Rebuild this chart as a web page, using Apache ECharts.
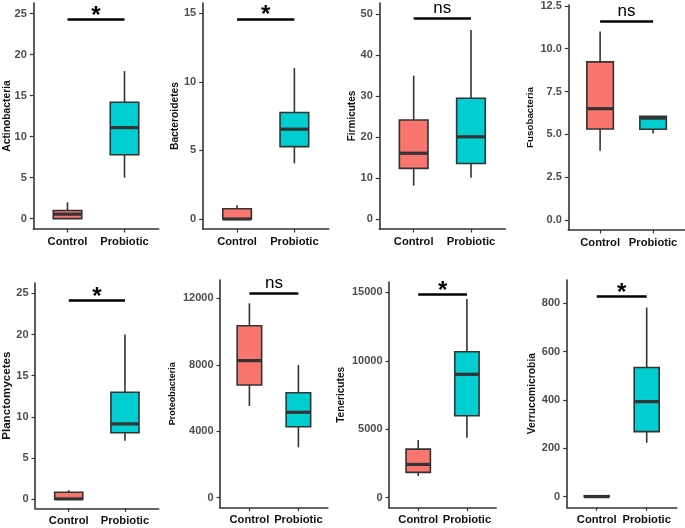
<!DOCTYPE html>
<html>
<head>
<meta charset="utf-8">
<script src="https://cdn.jsdelivr.net/npm/echarts@6/dist/echarts.min.js"></script>
<style>
html,body{margin:0;padding:0;background:#fff;}
#chart{width:685px;height:528px;}
</style>
</head>
<body>
<div id="chart"></div>
<script>
// ---------- DATA ----------
const categories = ['Control', 'Probiotic'];
const phyla = ['Actinobacteria', 'Bacteroidetes', 'Firmicutes', 'Fusobacteria',
               'Planctomycetes', 'Proteobacteria', 'Tenericutes', 'Verrucomicrobia'];
// each: [min, Q1, median, Q3, max] for Control, Probiotic
const actinobacteria  = [[0, 0, 0.55, 1.0, 2.0],        [5.0, 7.8, 11.1, 14.2, 18.0]];
const bacteroidetes   = [[0, 0, 0, 0.75, 1.0],          [4.05, 5.28, 6.55, 7.76, 11.0]];
const firmicutes      = [[8.2, 12.4, 16.1, 24.2, 35.0], [10.1, 13.6, 20.1, 29.5, 46.1]];
const fusobacteria    = [[4.04, 5.31, 6.5, 9.23, 11.0], [5.05, 5.3, 5.95, 6.05, 6.05]];
const planctomycetes  = [[0, 0, 0.05, 0.85, 1.1],       [7.1, 8.08, 9.15, 13.0, 20.0]];
const proteobacteria  = [[5520, 6780, 8250, 10350, 11700], [3030, 4270, 5140, 6320, 7990]];
const tenericutes     = [[1580, 1850, 2430, 3550, 4210],   [4380, 5990, 9010, 10660, 14510]];
const verrucomicrobia = [[0, 0, 0, 4, 7],               [223, 269, 393, 534, 782]];
const boxStats = [actinobacteria, bacteroidetes, firmicutes, fusobacteria,
                  planctomycetes, proteobacteria, tenericutes, verrucomicrobia];

const sigLabels = ['*', '*', 'ns', 'ns', '*', 'ns', '*', '*'];
const sigLevels = [24.3, 14.6, 49.1, 11.63, 24.2, 12300, 14850, 830];

const ticksActino   = [0, 5, 10, 15, 20, 25];
const ticksBactero  = [0, 5, 10, 15];
const ticksFirmi    = [0, 10, 20, 30, 40, 50];
const ticksFuso     = [0, 2.5, 5, 7.5, 10, 12.5];
const ticksPlancto  = [0, 5, 10, 15, 20, 25];
const ticksProteo   = [0, 4000, 8000, 12000];
const ticksTeneri   = [0, 5000, 10000, 15000];
const ticksVerruco  = [0, 200, 400, 600, 800];
const tickSets = [ticksActino, ticksBactero, ticksFirmi, ticksFuso,
                  ticksPlancto, ticksProteo, ticksTeneri, ticksVerruco];
const tickDecimals = [0, 0, 0, 1, 0, 0, 0, 0];

// ---------- LAYOUT / STYLE ----------
const layout = [
  {left: 33.3,  top: 3,   bottom: 229,   spacing: 57,   ymin: -1.26, ymax: 26.3,  nameGap: 20.8, nameSize: 10.3},
  {left: 202.7, top: 3,   bottom: 229,   spacing: 57.3, ymin: -0.73, ymax: 15.75, nameGap: 22.4, nameSize: 10.3},
  {left: 379.3, top: 3,   bottom: 229,   spacing: 57.3, ymin: -2.36, ymax: 52.7,  nameGap: 22.3, nameSize: 10},
  {left: 568.3, top: 5,   bottom: 230,   spacing: 53,   ymin: -0.58, ymax: 12.55, nameGap: 32.8, nameSize: 9.8},
  {left: 33.3,  top: 283, bottom: 508.3, spacing: 57,   ymin: -1.09, ymax: 26.25, nameGap: 22,   nameSize: 11.6},
  {left: 220,   top: 280, bottom: 507.7, spacing: 49,   ymin: -602,  ymax: 13101, nameGap: 42.8, nameSize: 9},
  {left: 389,   top: 282, bottom: 507.7, spacing: 48.7, ymin: -730,  ymax: 15752, nameGap: 42.7, nameSize: 10.1},
  {left: 566.7, top: 280, bottom: 507.3, spacing: 50,   ymin: -44,   ymax: 896,   nameGap: 29.2, nameSize: 10.3}
];
const fillColors = ['#F8766D', '#00CED1'];
const FONT = "'Liberation Sans', Arial, sans-serif";
const AX = '#333333';

function renderBox(params, api) {
  const x = api.value(0);
  const cMin = api.coord([x, api.value(1)]);
  const cQ1 = api.coord([x, api.value(2)]);
  const cMed = api.coord([x, api.value(3)]);
  const cQ3 = api.coord([x, api.value(4)]);
  const cMax = api.coord([x, api.value(5)]);
  const unit = api.size([1, 0])[0];
  const hw = unit * 0.25;
  const color = fillColors[x];
  return {
    type: 'group',
    children: [
      {type: 'line', shape: {x1: cMin[0], y1: cMin[1], x2: cQ1[0], y2: cQ1[1]}, style: {stroke: AX, lineWidth: 1.6}},
      {type: 'line', shape: {x1: cQ3[0], y1: cQ3[1], x2: cMax[0], y2: cMax[1]}, style: {stroke: AX, lineWidth: 1.6}},
      {type: 'rect', shape: {x: cQ1[0] - hw, y: cQ3[1], width: 2 * hw, height: Math.max(cQ1[1] - cQ3[1], 0.5)},
        style: {fill: color, stroke: AX, lineWidth: 1.6}},
      {type: 'line', shape: {x1: cMed[0] - hw, y1: cMed[1], x2: cMed[0] + hw, y2: cMed[1]}, style: {stroke: AX, lineWidth: 3.2}}
    ]
  };
}

const grids = [], xAxes = [], yAxes = [], series = [];
layout.forEach((L, i) => {
  grids.push({left: L.left, top: L.top, width: L.spacing * 2.2, height: L.bottom - L.top, containLabel: false});
  xAxes.push({
    type: 'value', gridIndex: i, min: -0.6, max: 1.6,
    splitLine: {show: false},
    axisLine: {show: true, onZero: false, lineStyle: {color: AX, width: 1.6}},
    axisTick: {show: true, length: 3.5, customValues: [0, 1], lineStyle: {color: AX, width: 1.2}},
    axisLabel: {show: true, customValues: [0, 1], margin: 7, color: '#111', fontFamily: FONT,
      fontWeight: 'bold', fontSize: 11.2, formatter: v => categories[Math.round(v)]}
  });
  yAxes.push({
    type: 'value', gridIndex: i, min: L.ymin, max: L.ymax,
    name: phyla[i], nameLocation: 'middle', nameGap: L.nameGap, nameRotate: 90,
    nameMoveOverlap: false,
    nameTextStyle: {color: '#111', fontFamily: FONT, fontWeight: 'bold', fontSize: L.nameSize},
    splitLine: {show: false},
    axisLine: {show: true, onZero: false, lineStyle: {color: AX, width: 1.6}},
    axisTick: {show: true, length: 3.5, customValues: tickSets[i], lineStyle: {color: AX, width: 1.2}},
    axisLabel: {show: true, customValues: tickSets[i], margin: 6.5, color: '#4D4D4D', fontFamily: FONT,
      fontWeight: 'bold', fontSize: 11, formatter: v => Number(v).toFixed(tickDecimals[i])}
  });
  const data = boxStats[i].map((s, k) => [k].concat(s));
  const isStar = sigLabels[i] === '*';
  series.push({
    type: 'custom', xAxisIndex: i, yAxisIndex: i,
    renderItem: renderBox,
    encode: {x: 0, y: [1, 2, 3, 4, 5]},
    data: data,
    silent: true,
    markLine: {
      silent: true, symbol: 'none', animation: false,
      lineStyle: {color: '#000', width: 2.6, type: 'solid'},
      label: {show: true, position: 'middle', formatter: sigLabels[i], color: '#000',
        fontFamily: FONT, fontWeight: isStar ? 'bold' : 'normal',
        fontSize: isStar ? 24 : 17, distance: isStar ? -9 : 1},
      emphasis: {disabled: true},
      data: [[{coord: [0, sigLevels[i]]}, {coord: [1, sigLevels[i]]}]]
    }
  });
});

const chart = echarts.init(document.getElementById('chart'), null, {renderer: 'canvas'});
chart.setOption({
  backgroundColor: '#ffffff',
  animation: false,
  grid: grids, xAxis: xAxes, yAxis: yAxes, series: series
});
</script>
</body>
</html>
